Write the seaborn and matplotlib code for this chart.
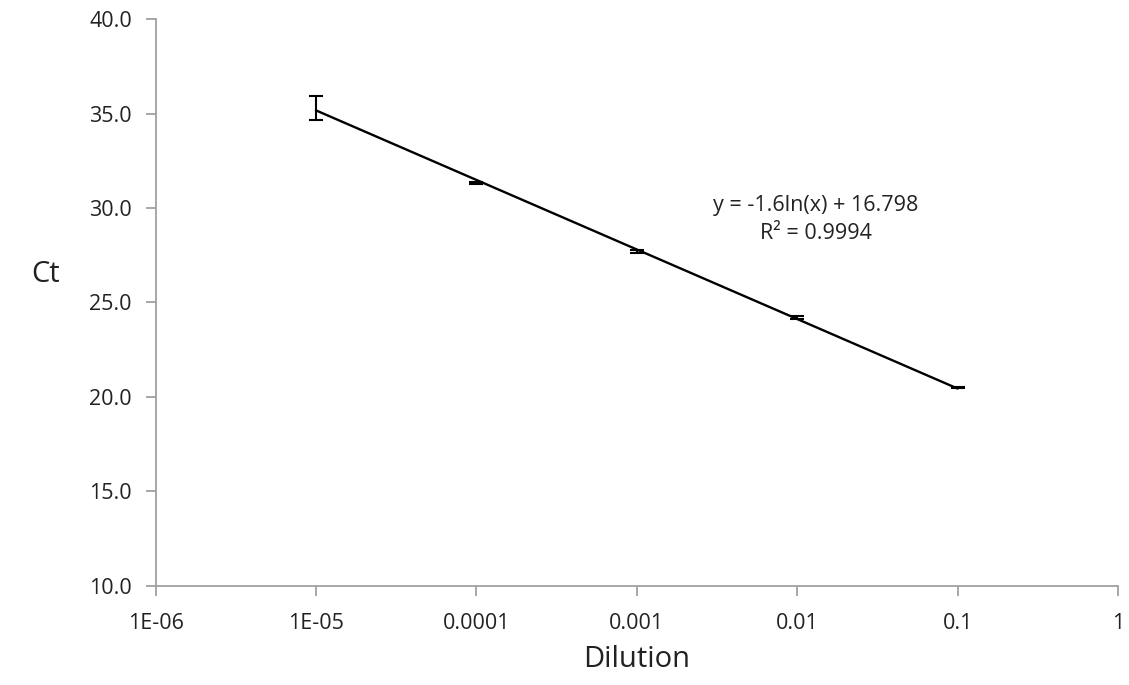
import numpy as np
import pandas as pd
import matplotlib
matplotlib.use("Agg")
import matplotlib.pyplot as plt
import seaborn as sns

dilution = [1e-5, 1e-4, 1e-3, 1e-2, 1e-1]
ct_mean = [35.32, 31.34, 27.72, 24.18, 20.48]
ct_err = [0.64, 0.06, 0.08, 0.08, 0.03]
x_ticks = [1e-6, 1e-5, 1e-4, 1e-3, 1e-2, 1e-1, 1]
x_tick_labels = ["1E-06", "1E-05", "0.0001", "0.001", "0.01", "0.1", "1"]
y_ticks = [10, 15, 20, 25, 30, 35, 40]
eq_text = "y = -1.6ln(x) + 16.798\nR² = 0.9994"

sns.set_theme(style="white")
plt.rcParams["font.family"] = ["Open Sans", "DejaVu Sans"]

df = pd.DataFrame({"Dilution": dilution, "Ct": ct_mean, "err": ct_err})

# Logarithmic trendline fitted on the data
coef = np.polyfit(np.log(df["Dilution"]), df["Ct"], 1)
trend = pd.DataFrame({"Dilution": df["Dilution"]})
trend["Ct"] = coef[0] * np.log(trend["Dilution"]) + coef[1]

fig = plt.figure(figsize=(11.29, 6.85), dpi=100)
ax = fig.add_axes([0.1378, 0.145, 0.8525, 0.8268])

sns.lineplot(data=trend, x="Dilution", y="Ct", ax=ax, color="black", linewidth=1.7)
ax.errorbar(df["Dilution"], df["Ct"], yerr=df["err"], fmt="none",
            ecolor="black", elinewidth=1.5, capsize=5, capthick=1.5)

ax.set_xscale("log")
ax.set_xlim(1e-6, 1)
ax.set_ylim(10, 40)
ax.set_xticks(x_ticks)
ax.set_xticklabels(x_tick_labels)
ax.minorticks_off()
ax.set_yticks(y_ticks)
ax.set_yticklabels([f"{v:.1f}" for v in y_ticks])

for s in ["top", "right"]:
    ax.spines[s].set_visible(False)
for s in ["left", "bottom"]:
    ax.spines[s].set_color("#a0a0a0")
    ax.spines[s].set_linewidth(1.3)
ax.tick_params(axis="both", which="major", direction="out", length=7, width=1.3,
               color="#a0a0a0", labelsize=15.5, labelcolor="#222222")
ax.tick_params(axis="x", pad=13)
ax.tick_params(axis="y", pad=10)
ax.xaxis.set_ticks_position("bottom")
ax.yaxis.set_ticks_position("left")

ax.set_xlabel("Dilution", fontsize=21, color="#222222")
ax.set_ylabel("Ct", fontsize=21, color="#222222", rotation=0, va="center", ha="center")
ax.xaxis.set_label_coords(0.4995, -0.131)
ax.yaxis.set_label_coords(-0.114, 0.549)
ax.xaxis.label.set_va("center")

ax.text(0.686, 0.646, eq_text, transform=ax.transAxes, ha="center", va="center",
        fontsize=15.5, color="#222222", linespacing=1.45)

fig.savefig("out.png", dpi=100)
